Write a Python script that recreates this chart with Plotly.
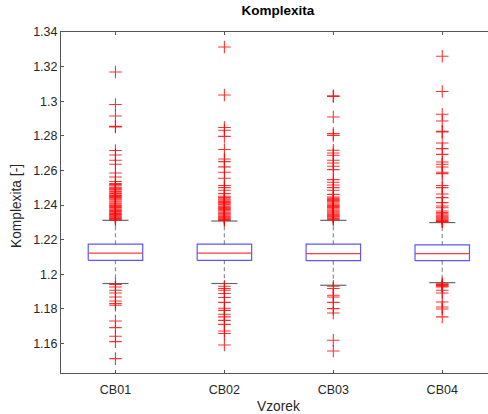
import plotly.graph_objects as go

categories = ["CB01", "CB02", "CB03", "CB04"]
q1 = [1.2081, 1.2081, 1.2079, 1.2079]
median = [1.2123, 1.2123, 1.2120, 1.2120]
q3 = [1.2174, 1.2174, 1.2174, 1.2170]
lower_whisker = [1.1947, 1.1947, 1.1937, 1.1952]
upper_whisker = [1.2312, 1.2308, 1.2312, 1.2299]

outliers_cb01 = [1.3169, 1.2981, 1.2915, 1.2855, 1.2851, 1.2715, 1.2689, 1.2659, 1.2636, 1.2585,
                 1.2562, 1.2536, 1.2524, 1.2519, 1.2512, 1.2503, 1.2497, 1.2493, 1.2488, 1.2479,
                 1.2471, 1.2466, 1.2458, 1.2455, 1.2449, 1.2443, 1.2437, 1.2431, 1.2424, 1.2418,
                 1.2411, 1.2405, 1.2398, 1.2391, 1.2386, 1.2379, 1.2373, 1.2368, 1.2362, 1.2356,
                 1.2351, 1.2346, 1.2341, 1.2336, 1.2331, 1.2327, 1.2322, 1.2318, 1.2314,
                 1.1942, 1.1927, 1.1908, 1.1892, 1.1869, 1.1846, 1.1831, 1.1821,
                 1.1730, 1.1692, 1.1642, 1.1611, 1.1513]
outliers_cb02 = [1.3313, 1.3036, 1.2848, 1.2832, 1.2797, 1.2721, 1.2666, 1.2651, 1.2621, 1.2590,
                 1.2555, 1.2513, 1.2501, 1.2486, 1.2466, 1.2451, 1.2444, 1.2436, 1.2429, 1.2421,
                 1.2414, 1.2407, 1.2401, 1.2393, 1.2387, 1.2380, 1.2374, 1.2367, 1.2360, 1.2354,
                 1.2349, 1.2343, 1.2337, 1.2332, 1.2326, 1.2321, 1.2316, 1.2311,
                 1.1931, 1.1918, 1.1908, 1.1889, 1.1866, 1.1838, 1.1804, 1.1792, 1.1769, 1.1754,
                 1.1734, 1.1711, 1.1673, 1.1658, 1.1592]
outliers_cb03 = [1.3031, 1.3027, 1.2909, 1.2813, 1.2803, 1.2717, 1.2701, 1.2688, 1.2659, 1.2643,
                 1.2624, 1.2605, 1.2547, 1.2532, 1.2516, 1.2501, 1.2486, 1.2462, 1.2447, 1.2440,
                 1.2433, 1.2426, 1.2419, 1.2412, 1.2405, 1.2398, 1.2392, 1.2386, 1.2379, 1.2372,
                 1.2366, 1.2360, 1.2354, 1.2348, 1.2342, 1.2336, 1.2331, 1.2325, 1.2320, 1.2315,
                 1.1931, 1.1918, 1.1879, 1.1869, 1.1838, 1.1802, 1.1777, 1.1619, 1.1557]
outliers_cb04 = [1.3260, 1.3056, 1.2925, 1.2886, 1.2827, 1.2823, 1.2759, 1.2726, 1.2693, 1.2649,
                 1.2636, 1.2620, 1.2590, 1.2582, 1.2513, 1.2501, 1.2464, 1.2443, 1.2414, 1.2395,
                 1.2385, 1.2366, 1.2357, 1.2350, 1.2343, 1.2336, 1.2330, 1.2324, 1.2318, 1.2312,
                 1.2306, 1.2302,
                 1.1946, 1.1941, 1.1936, 1.1931, 1.1927, 1.1908, 1.1892, 1.1840, 1.1811, 1.1800,
                 1.1754]
outliers = [outliers_cb01, outliers_cb02, outliers_cb03, outliers_cb04]

BOX_HALF = 0.25
CAP_HALF = 0.12

positions = list(range(1, len(categories) + 1))

bx, by, mx, my, wx, wy, cx, cy, ox, oy = [], [], [], [], [], [], [], [], [], []
for i, p in enumerate(positions):
    bx += [p - BOX_HALF, p + BOX_HALF, p + BOX_HALF, p - BOX_HALF, p - BOX_HALF, None]
    by += [q1[i], q1[i], q3[i], q3[i], q1[i], None]
    mx += [p - BOX_HALF, p + BOX_HALF, None]
    my += [median[i], median[i], None]
    wx += [p, p, None, p, p, None]
    wy += [q3[i], upper_whisker[i], None, q1[i], lower_whisker[i], None]
    cx += [p - CAP_HALF, p + CAP_HALF, None, p - CAP_HALF, p + CAP_HALF, None]
    cy += [upper_whisker[i], upper_whisker[i], None, lower_whisker[i], lower_whisker[i], None]
    ox += [p] * len(outliers[i])
    oy += outliers[i]

fig = go.Figure()
fig.add_trace(go.Scatter(x=wx, y=wy, mode="lines", line=dict(color="#8f8f8f", width=1.2, dash="4px,3px"), hoverinfo="skip"))
fig.add_trace(go.Scatter(x=cx, y=cy, mode="lines", line=dict(color="#666666", width=1.2), hoverinfo="skip"))
fig.add_trace(go.Scatter(x=ox, y=oy, mode="markers",
                         marker=dict(symbol="cross-thin-open", size=9, color="rgba(255,0,0,0.8)",
                                     line=dict(width=1.1))))
fig.add_trace(go.Scatter(x=bx, y=by, mode="lines", line=dict(color="rgba(60,60,255,0.85)", width=1.2), hoverinfo="skip"))
fig.add_trace(go.Scatter(x=mx, y=my, mode="lines", line=dict(color="#ff3b3b", width=1.2), hoverinfo="skip"))

axis_color = "#555555"
font_fam = "Liberation Sans, Arial, sans-serif"

fig.update_layout(
    width=488, height=414,
    margin=dict(l=61, r=0, t=32, b=41),
    paper_bgcolor="white", plot_bgcolor="white",
    showlegend=False,
    font=dict(family=font_fam, size=12.5, color="#262626"),
    title=dict(text="<b>Komplexita</b>", x=278 / 488, xanchor="center", xref="container",
               y=1 - 10 / 414, yanchor="middle", yref="container",
               font=dict(size=13.5, color="#000000")),
    xaxis=dict(range=[0.5, 4.42], tickvals=positions, ticktext=categories,
               showgrid=False, zeroline=False, showline=True, linecolor=axis_color, linewidth=1,
               mirror="ticks", ticks="inside", ticklen=3, tickcolor=axis_color,
               ticklabelstandoff=5, tickfont=dict(size=12.5, color="#262626")),
    yaxis=dict(range=[1.143, 1.34], tickvals=[1.16, 1.18, 1.2, 1.22, 1.24, 1.26, 1.28, 1.3, 1.32, 1.34],
               ticktext=["1.16", "1.18", "1.2", "1.22", "1.24", "1.26", "1.28", "1.3", "1.32", "1.34"],
               showgrid=False, zeroline=False, showline=True, linecolor=axis_color, linewidth=1,
               mirror=False, ticks="inside", ticklen=3, tickcolor=axis_color,
               tickfont=dict(size=12.5, color="#262626")),
    annotations=[
        dict(text="Vzorek", x=(278 - 61) / 427, y=(414 - 41 - 407) / 341, xref="paper", yref="paper",
             showarrow=False, font=dict(size=13.75, color="#262626"), xanchor="center", yanchor="middle"),
        dict(text="Komplexita [-]", x=(16 - 61) / 427, y=(414 - 41 - 206) / 341, xref="paper", yref="paper",
             showarrow=False, textangle=-90, font=dict(size=13.75, color="#262626"), xanchor="center", yanchor="middle"),
    ],
)

fig.write_html("out.html")
